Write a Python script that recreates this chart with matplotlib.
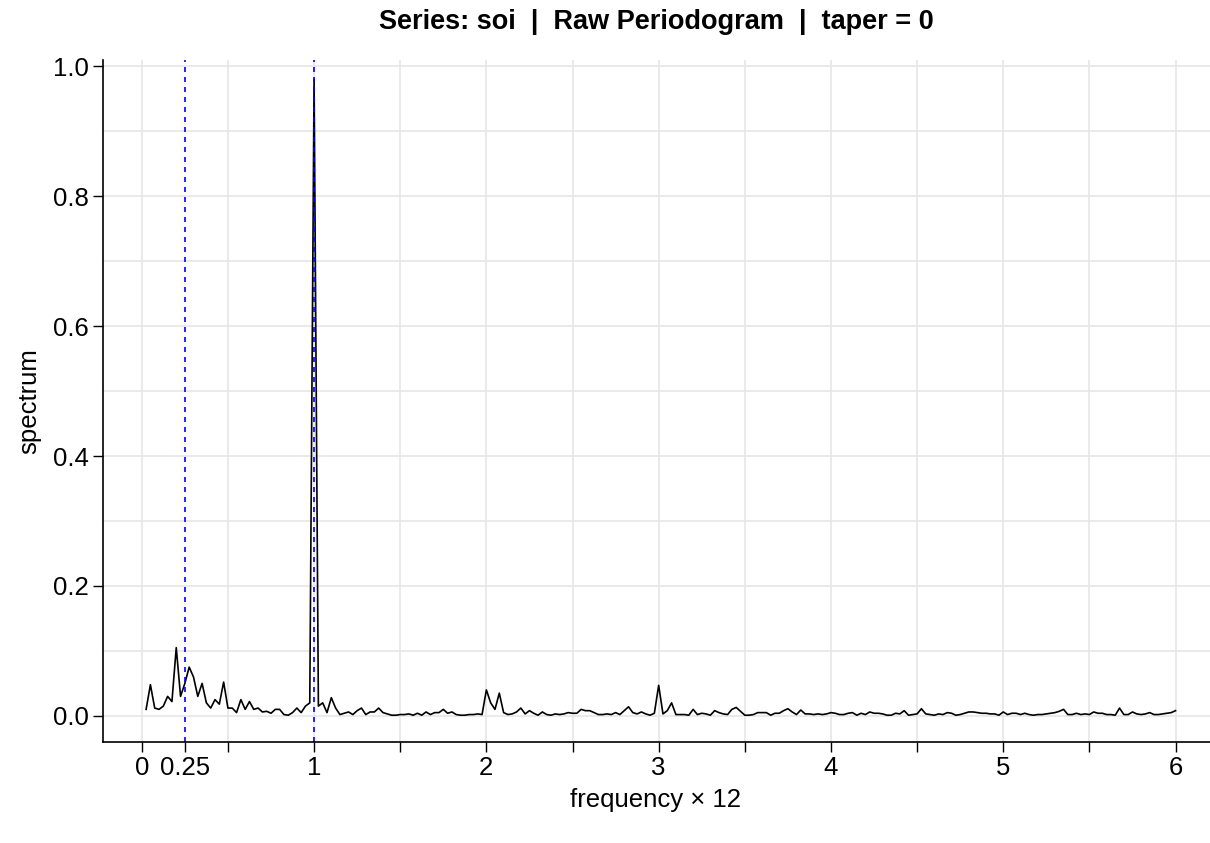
import numpy as np
import matplotlib.pyplot as plt

plt.rcParams['font.family'] = ['Liberation Sans', 'DejaVu Sans']

# frequency x 12, k/40 for k = 1..240
freq = np.arange(1, 241) / 40.0

# spectrum values, 40 per unit of frequency
spec_0_1 = [0.010, 0.048, 0.012, 0.010, 0.015, 0.030, 0.022, 0.105, 0.030, 0.050,
            0.075, 0.060, 0.030, 0.050, 0.020, 0.012, 0.025, 0.018, 0.052, 0.012,
            0.012, 0.005, 0.025, 0.010, 0.022, 0.010, 0.012, 0.006, 0.007, 0.004,
            0.010, 0.010, 0.002, 0.001, 0.005, 0.012, 0.005, 0.015, 0.020, 0.980]
spec_1_2 = [0.015, 0.020, 0.005, 0.028, 0.012, 0.002, 0.004, 0.006, 0.002, 0.008,
            0.012, 0.002, 0.006, 0.006, 0.012, 0.005, 0.003, 0.001, 0.001, 0.002,
            0.002, 0.003, 0.001, 0.004, 0.001, 0.006, 0.002, 0.005, 0.005, 0.010,
            0.004, 0.006, 0.002, 0.001, 0.001, 0.002, 0.002, 0.003, 0.002, 0.040]
spec_2_3 = [0.020, 0.010, 0.035, 0.005, 0.002, 0.003, 0.006, 0.012, 0.003, 0.008,
            0.004, 0.001, 0.006, 0.002, 0.001, 0.003, 0.002, 0.003, 0.005, 0.004,
            0.004, 0.010, 0.008, 0.008, 0.005, 0.002, 0.002, 0.003, 0.002, 0.005,
            0.002, 0.008, 0.014, 0.005, 0.003, 0.006, 0.003, 0.001, 0.004, 0.047]
spec_3_4 = [0.003, 0.008, 0.020, 0.002, 0.002, 0.002, 0.001, 0.010, 0.002, 0.004,
            0.003, 0.001, 0.008, 0.005, 0.003, 0.002, 0.010, 0.013, 0.007, 0.001,
            0.001, 0.002, 0.005, 0.005, 0.005, 0.001, 0.004, 0.004, 0.008, 0.011,
            0.006, 0.002, 0.009, 0.003, 0.003, 0.002, 0.003, 0.002, 0.003, 0.005]
spec_4_5 = [0.004, 0.002, 0.002, 0.004, 0.005, 0.001, 0.004, 0.002, 0.006, 0.004,
            0.004, 0.003, 0.001, 0.001, 0.004, 0.003, 0.008, 0.001, 0.002, 0.003,
            0.011, 0.003, 0.002, 0.001, 0.003, 0.002, 0.005, 0.004, 0.001, 0.002,
            0.004, 0.006, 0.006, 0.005, 0.004, 0.004, 0.003, 0.003, 0.001, 0.006]
spec_5_6 = [0.002, 0.004, 0.004, 0.002, 0.004, 0.002, 0.001, 0.002, 0.002, 0.003,
            0.004, 0.005, 0.007, 0.010, 0.002, 0.002, 0.004, 0.002, 0.003, 0.002,
            0.006, 0.004, 0.004, 0.002, 0.002, 0.001, 0.012, 0.002, 0.002, 0.006,
            0.003, 0.002, 0.003, 0.005, 0.002, 0.002, 0.003, 0.004, 0.005, 0.008]
spectrum = spec_0_1 + spec_1_2 + spec_2_3 + spec_3_4 + spec_4_5 + spec_5_6

marks = [0.25, 1.0]
x_labels = [0, 0.25, 1, 2, 3, 4, 5, 6]

fig = plt.figure(figsize=(12.1, 8.43), dpi=100)
ax = fig.add_axes([0.085, 0.12, 0.915, 0.809])

# grid lines every 0.5 in x and 0.1 in y
for gx in np.arange(0, 6.01, 0.5):
    ax.axvline(gx, color='#e6e6e6', linewidth=1.2, zorder=0)
for gy in np.arange(0, 1.01, 0.1):
    ax.axhline(gy, color='#e6e6e6', linewidth=1.2, zorder=0)

ax.plot(freq, spectrum, color='black', linewidth=1.2)
for m in marks:
    ax.axvline(m, color='blue', linestyle=(0, (3, 3)), linewidth=1.2)

ax.set_xlim(-0.226, 6.2)
ax.set_ylim(-0.04, 1.01)
ax.set_xticks(np.arange(0, 6.01, 0.5), minor=True)
ax.set_xticks(x_labels)
ax.set_xticklabels(['0', '0.25', '1', '2', '3', '4', '5', '6'], fontsize=18.5)
ax.set_yticks([0, 0.2, 0.4, 0.6, 0.8, 1.0])
ax.set_yticklabels(['0.0', '0.2', '0.4', '0.6', '0.8', '1.0'], fontsize=18.5)
ax.tick_params(which='both', direction='out', length=7, width=1, pad=3)
for s in ['top', 'right']:
    ax.spines[s].set_visible(False)
ax.spines['left'].set_linewidth(1.2)
ax.spines['bottom'].set_linewidth(1.2)

ax.set_xlabel('frequency \u00d7 12', fontsize=18.5, va='center')
ax.xaxis.set_label_coords(0.499, -0.085)
ax.set_ylabel('spectrum', fontsize=18.5, va='center')
ax.yaxis.set_label_coords(-0.066, 0.5)
ax.set_title('Series: soi  |  Raw Periodogram  |  taper = 0',
             fontsize=19.5, fontweight='bold', pad=22)

fig.savefig('out.png')
